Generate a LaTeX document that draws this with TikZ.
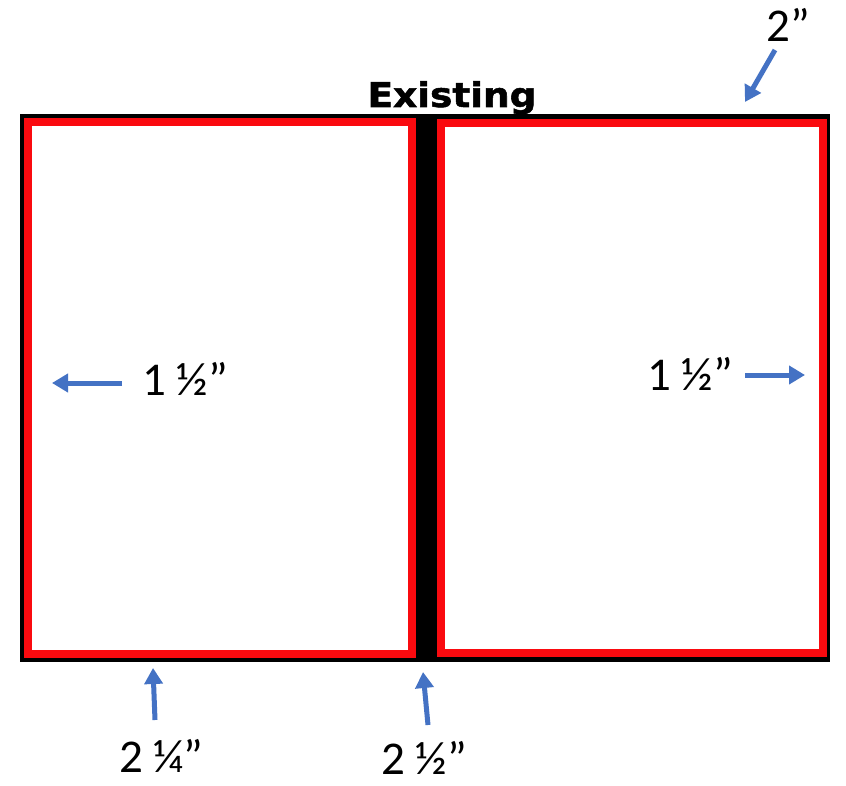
\documentclass[tikz,border=0pt]{standalone}
\usepackage{fontspec}
\setmainfont{Carlito}
\newfontfamily\titlefont{DejaVu Sans}[BoldFeatures={FakeBold=1.5}]
\usetikzlibrary{arrows.meta}
\definecolor{arrowblue}{HTML}{4472C4}
\definecolor{panelred}{HTML}{FA0A0F}
\begin{document}
\begin{tikzpicture}[x=1pt,y=-1pt,
  dimarrow/.style={arrowblue, line width=5pt, -{Triangle[width=18pt,length=16pt]}},
  dimlabel/.style={font=\fontsize{47}{47}\selectfont, inner sep=0pt, anchor=base west},
  panel/.style={draw=panelred, line width=8pt, fill=white}]
\useasboundingbox[fill=white] (0,0) rectangle (846,786);
\fill[black] (20,114) rectangle (830,662);
\draw[panel] (27.5,122.5) rectangle (411.5,654);
\draw[panel] (440.5,123) rectangle (822.5,652.5);
\node[font=\titlefont\bfseries\fontsize{34}{34}\selectfont, anchor=base, inner sep=0pt] (title) at (452,107) {\scalebox{1.1}[1]{Existing}};
\node[dimlabel] (ltop) at (766,42) {2”};
\node[dimlabel] (lleft) at (142,395) {1 ½”};
\node[dimlabel] (lright) at (647,390) {1 ½”};
\node[dimlabel] (lbotA) at (119,772) {2 ¼”};
\node[dimlabel] (lbotB) at (381,774) {2 ½”};
\coordinate (aTs) at (775,50); \coordinate (aTe) at (745,102);
\coordinate (aLs) at (122,383); \coordinate (aLe) at (52,383);
\coordinate (aRs) at (745,375); \coordinate (aRe) at (805,375);
\coordinate (aAs) at (155,720); \coordinate (aAe) at (153,668);
\coordinate (aBs) at (428,725); \coordinate (aBe) at (423,672);
\draw[dimarrow] (aTs) -- (aTe);
\draw[dimarrow] (aLs) -- (aLe);
\draw[dimarrow] (aRs) -- (aRe);
\draw[dimarrow] (aAs) -- (aAe);
\draw[dimarrow] (aBs) -- (aBe);
\end{tikzpicture}
\end{document}
